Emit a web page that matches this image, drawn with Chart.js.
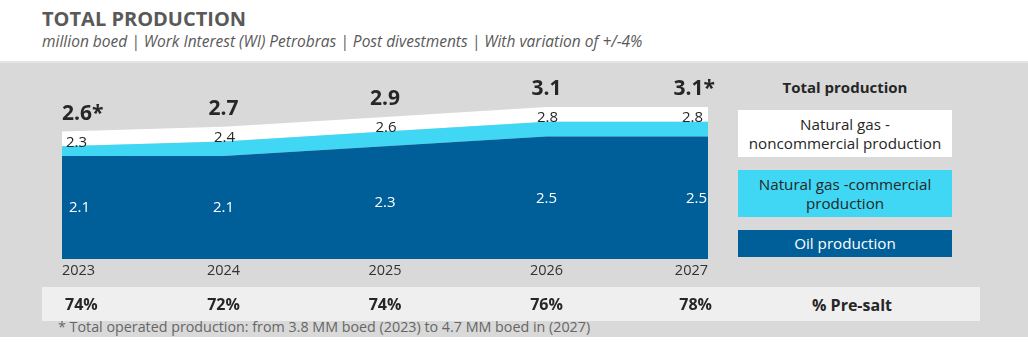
<!DOCTYPE html>
<html>
<head>
<meta charset="utf-8">
<script src="https://cdn.jsdelivr.net/npm/chart.js@4.4.0/dist/chart.umd.min.js"></script>
<style>
  body { margin:0; width:1028px; height:344px; background:#fff; position:relative; overflow:hidden; font-family:"Open Sans", sans-serif; }
  #title { position:absolute; left:42px; top:7px; font-size:20px; line-height:24px; font-weight:bold; color:#595959; }
  #subtitle { position:absolute; left:42px; top:32px; font-size:15.5px; line-height:18px; font-style:italic; color:#595959; white-space:nowrap; }
  #panel { position:absolute; left:0; top:61px; width:1028px; height:276px; background:#d9d9d9; border-top:2px solid #e4e4e4; box-sizing:border-box; }
  #strip { position:absolute; left:42px; top:287px; width:938px; height:34px; background:#efefef; }
  #chart { position:absolute; left:0; top:0; }
  .leg { position:absolute; left:738px; width:214px; display:flex; align-items:center; justify-content:center; text-align:center; font-size:15.2px; line-height:19px; color:#262626; }
  #legTitle { position:absolute; left:738px; width:214px; top:76px; text-align:center; font-size:15px; line-height:22px; font-weight:bold; color:#262626; }
  #presaltTitle { position:absolute; left:780px; width:144px; top:294px; text-align:center; font-size:16px; line-height:22px; font-weight:bold; color:#262626; }
  #note { position:absolute; left:58px; top:318px; font-size:14.3px; line-height:18px; color:#666; white-space:nowrap; }
</style>
</head>
<body>
<div id="title">TOTAL PRODUCTION</div>
<div id="subtitle">million boed | Work Interest (WI) Petrobras | Post divestments | With variation of +/-4%</div>
<div id="panel"></div>
<div id="strip"></div>
<div id="legTitle">Total production</div>
<div class="leg" style="top:110px;height:47px;background:#ffffff;">Natural gas -<br>noncommercial production</div>
<div class="leg" style="top:170px;height:47px;background:#3fd7f4;">Natural gas -commercial<br>production</div>
<div class="leg" style="top:230px;height:27px;background:#005f98;color:#fff;">Oil production</div>
<div id="presaltTitle">% Pre-salt</div>
<div id="note">* Total operated production: from 3.8 MM boed (2023) to 4.7 MM boed in (2027)</div>
<canvas id="chart" width="1028" height="344"></canvas>
<script>
var years = ['2023', '2024', '2025', '2026', '2027'];
// cumulative levels as printed on the chart (million boed)
var oilProd = [2.1, 2.1, 2.3, 2.5, 2.5];
var withCommercialGas = [2.3, 2.4, 2.6, 2.8, 2.8];
var totalProd = [2.6, 2.7, 2.9, 3.1, 3.1];
var totalMark = ['*', '', '', '', '*'];
var preSalt = ['74%', '72%', '74%', '76%', '78%'];

var DARK = '#005f98', CYAN = '#3fd7f4';

// value labels + pre-salt row, placed with the chart's own scales
var labelPlugin = {
  id: 'labels',
  afterDatasetsDraw: function(chart){
    var ctx = chart.ctx, xs = chart.scales.x, ys = chart.scales.y;
    var n = years.length;
    ctx.save();
    ctx.textBaseline = 'middle';
    for (var i=0; i<n; i++) {
      var x = xs.getPixelForValue(i);
      var first = i === 0, last = i === n-1;
      ctx.textAlign = first ? 'left' : (last ? 'right' : 'center');

      // totals
      ctx.font = 'bold 21px "Open Sans"';
      ctx.fillStyle = '#262626';
      ctx.fillText(totalProd[i].toFixed(1) + totalMark[i], x + (last ? 7 : 0), ys.getPixelForValue(totalProd[i]) - 18);

      // oil + commercial gas
      ctx.font = '15px "Open Sans"';
      ctx.fillStyle = '#262626';
      ctx.fillText(withCommercialGas[i].toFixed(1), x + (first ? 4 : (last ? -5 : 1)), ys.getPixelForValue(withCommercialGas[i]) - 4);

      // oil
      ctx.fillStyle = '#ffffff';
      var mid = (ys.getPixelForValue(oilProd[i]) + ys.getPixelForValue(0)) / 2;
      ctx.fillText(oilProd[i].toFixed(1), x + (first ? 7 : (last ? -1 : 0)), mid + 0.5);

      // pre-salt share
      ctx.font = 'bold 16px "Open Sans"';
      ctx.fillStyle = '#262626';
      ctx.fillText(preSalt[i], x + (first ? 3 : (last ? 4 : 0)), 305);
    }
    ctx.restore();
  }
};

new Chart(document.getElementById('chart'), {
  type: 'line',
  data: {
    labels: years,
    datasets: [
      { label: 'Oil production', data: oilProd, fill: 'origin', backgroundColor: DARK, borderWidth: 0, pointRadius: 0, tension: 0 },
      { label: 'Natural gas -commercial production', data: withCommercialGas, fill: '-1', backgroundColor: CYAN, borderWidth: 0, pointRadius: 0, tension: 0 },
      { label: 'Natural gas - noncommercial production', data: totalProd, fill: '-1', backgroundColor: '#ffffff', borderWidth: 0, pointRadius: 0, tension: 0 }
    ]
  },
  options: {
    responsive: false,
    animation: false,
    layout: { padding: { left: 62, right: 320, top: 63, bottom: 63 } },
    plugins: { legend: { display: false }, tooltip: { enabled: false } },
    scales: {
      x: {
        offset: false,
        grid: { display: false, drawTicks: false },
        border: { display: false },
        ticks: { align: 'inner', padding: 3, color: '#333', font: { family: '"Open Sans"', size: 14.5 } },
        afterFit: function(axis){ axis.height = 22; }
      },
      y: { display: false, min: 0, max: 4 }
    }
  },
  plugins: [labelPlugin]
});
</script>
</body>
</html>
